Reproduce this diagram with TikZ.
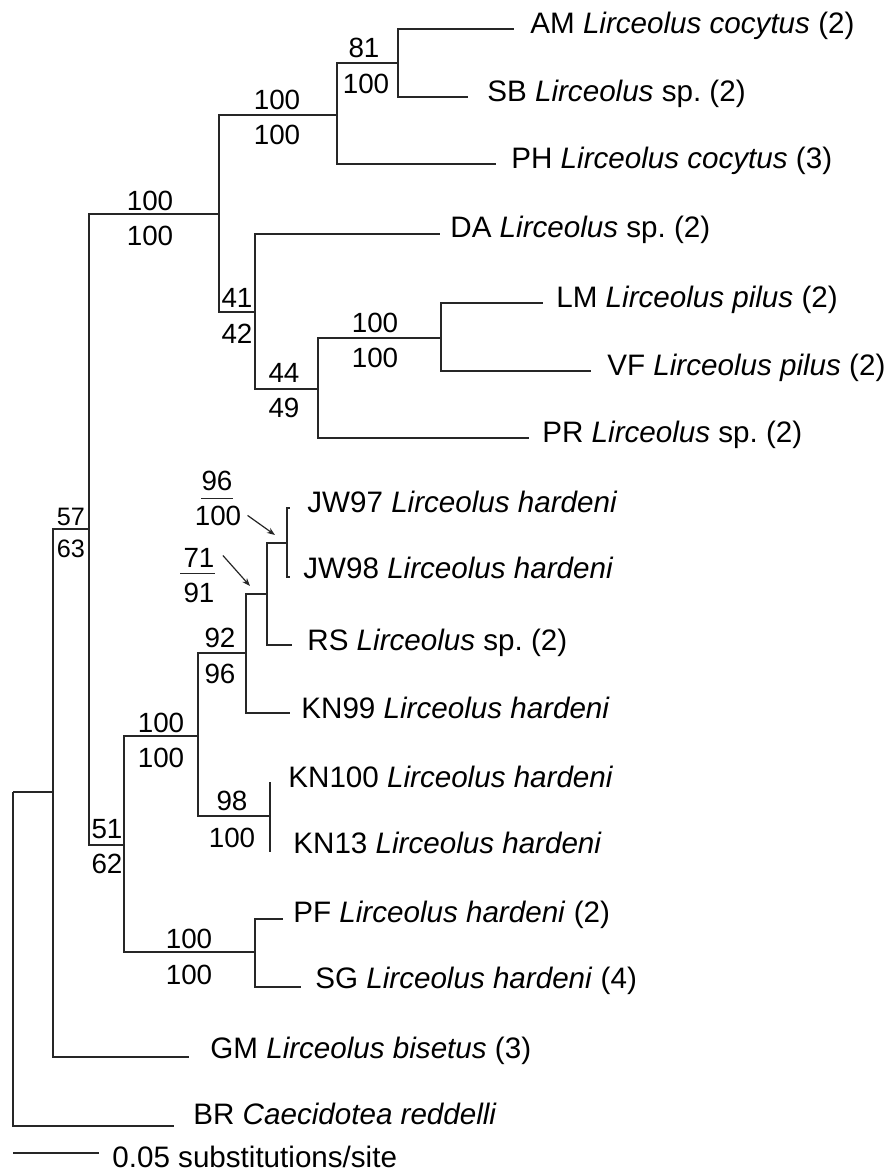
\documentclass[tikz,border=0pt]{standalone}
\usepackage{fontspec}
\setmainfont{Liberation Sans}
\usetikzlibrary{arrows.meta}
\begin{document}
\begin{tikzpicture}[x=0.5pt,y=-0.5pt,
  edge/.style={line width=0.75pt,color=black!85},
  taxon/.style={anchor=base west,inner sep=0pt,font=\fontsize{14.8}{17}\selectfont\frenchspacing},
  supp/.style={anchor=base,inner sep=0pt,font=\fontsize{13.9}{16}\selectfont},
  suppsmall/.style={anchor=base,inner sep=0pt,font=\fontsize{12.6}{15}\selectfont},
  pointer/.style={line width=0.6pt,color=black!85,-{Stealth[length=4pt,width=3pt]}}]
\useasboundingbox (0,0) rectangle (892,1174);
% internal nodes
\coordinate (r) at (13,792);
\coordinate (n1) at (53,792);
\coordinate (n2) at (89,529);
\coordinate (n3) at (219,214);
\coordinate (n4) at (337,115);
\coordinate (n5) at (398,63);
\coordinate (n6) at (255,312);
\coordinate (n7) at (318,389);
\coordinate (n8) at (441,338);
\coordinate (n9) at (124,845);
\coordinate (n10) at (198,736);
\coordinate (n11) at (246,653);
\coordinate (n12) at (267,594);
\coordinate (n13) at (287,543);
\coordinate (n14) at (270,816);
\coordinate (n15) at (255,952);
% tips
\coordinate (tAM) at (514,29);
\coordinate (tSB) at (468,97);
\coordinate (tPH) at (496,164);
\coordinate (tDA) at (440,234);
\coordinate (tLM) at (543,303);
\coordinate (tVF) at (591,371);
\coordinate (tPR) at (529,438);
\coordinate (tJWa) at (290,508);
\coordinate (tJWb) at (290,577);
\coordinate (tRS) at (292,645);
\coordinate (tKNa) at (290,713);
\coordinate (tKNb) at (270,782);
\coordinate (tKNc) at (270,852);
\coordinate (tPF) at (283,919);
\coordinate (tSG) at (301,987);
\coordinate (tGM) at (189,1057);
\coordinate (tBR) at (174,1126);
% edges
\draw[edge] (r) |- (n1);  \draw[edge] (r) |- (tBR);
\draw[edge] (n1) |- (n2); \draw[edge] (n1) |- (tGM);
\draw[edge] (n2) |- (n3); \draw[edge] (n2) |- (n9);
\draw[edge] (n3) |- (n4); \draw[edge] (n3) |- (n6);
\draw[edge] (n4) |- (n5); \draw[edge] (n4) |- (tPH);
\draw[edge] (n5) |- (tAM); \draw[edge] (n5) |- (tSB);
\draw[edge] (n6) |- (tDA); \draw[edge] (n6) |- (n7);
\draw[edge] (n7) |- (n8); \draw[edge] (n7) |- (tPR);
\draw[edge] (n8) |- (tLM); \draw[edge] (n8) |- (tVF);
\draw[edge] (n9) |- (n10); \draw[edge] (n9) |- (n15);
\draw[edge] (n10) |- (n11); \draw[edge] (n10) |- (n14);
\draw[edge] (n11) |- (n12); \draw[edge] (n11) |- (tKNa);
\draw[edge] (n12) |- (n13); \draw[edge] (n12) |- (tRS);
\draw[edge] (n13) |- (tJWa); \draw[edge] (n13) |- (tJWb);
\draw[edge] (n14) |- (tKNb); \draw[edge] (n14) |- (tKNc);
\draw[edge] (n15) |- (tPF); \draw[edge] (n15) |- (tSG);
% taxon labels
\node[taxon] (lAM) at (530,33) {AM \textit{Lirceolus cocytus} (2)};
\node[taxon] (lSB) at (487,101) {SB \textit{Lirceolus} sp. (2)};
\node[taxon] (lPH) at (511,168) {PH \textit{Lirceolus cocytus} (3)};
\node[taxon] (lDA) at (450,237) {DA \textit{Lirceolus} sp. (2)};
\node[taxon] (lLM) at (556,307) {LM \textit{Lirceolus pilus} (2)};
\node[taxon] (lVF) at (607,375) {VF \textit{Lirceolus pilus} (2)};
\node[taxon] (lPR) at (542,442) {PR \textit{Lirceolus} sp. (2)};
\node[taxon] (lJWa) at (307,512) {JW97 \textit{Lirceolus hardeni}};
\node[taxon] (lJWb) at (303,578) {JW98 \textit{Lirceolus hardeni}};
\node[taxon] (lRS) at (307,650) {RS \textit{Lirceolus} sp. (2)};
\node[taxon] (lKNa) at (301,718) {KN99 \textit{Lirceolus hardeni}};
\node[taxon] (lKNb) at (288,787) {KN100 \textit{Lirceolus hardeni}};
\node[taxon] (lKNc) at (293,853) {KN13 \textit{Lirceolus hardeni}};
\node[taxon] (lPF) at (293,922) {PF \textit{Lirceolus hardeni} (2)};
\node[taxon] (lSG) at (315,988) {SG \textit{Lirceolus hardeni} (4)};
\node[taxon] (lGM) at (210,1058) {GM \textit{Lirceolus bisetus} (3)};
\node[taxon] (lBR) at (193,1124) {BR \textit{Caecidotea reddelli}};
% support values
\node[supp] (s81) at (364,57) {81};
\node[supp] (s81b) at (366,93) {100};
\node[supp] (sAa) at (277,109) {100};
\node[supp] (sAb) at (277,144) {100};
\node[supp] (sBa) at (150,210) {100};
\node[supp] (sBb) at (150,245) {100};
\node[supp] (s41) at (237,307) {41};
\node[supp] (s42) at (237,343) {42};
\node[supp] (s44) at (284,382) {44};
\node[supp] (s49) at (284,417) {49};
\node[supp] (sCa) at (375,332) {100};
\node[supp] (sCb) at (375,367) {100};
\node[suppsmall] (s57) at (71,525) {57};
\node[suppsmall] (s63) at (71,557) {63};
\node[supp] (s96) at (217,490) {96};
\node[supp] (s96b) at (218,525) {100};
\node[supp] (s71) at (199,567) {71};
\node[supp] (s91) at (199,602) {91};
\node[supp] (s92) at (220,647) {92};
\node[supp] (s92b) at (220,683) {96};
\node[supp] (sDa) at (161,732) {100};
\node[supp] (sDb) at (161,767) {100};
\node[supp] (s98) at (232,810) {98};
\node[supp] (s98b) at (232,847) {100};
\node[supp] (s51) at (107,838) {51};
\node[supp] (s62) at (107,873) {62};
\node[supp] (sEa) at (189,948) {100};
\node[supp] (sEb) at (189,984) {100};
% fraction bars and pointers
\draw[edge,line width=0.6pt] ([yshift=-4pt]s96.south west) -- ([yshift=-4pt]s96.south east);
\draw[edge,line width=0.6pt] ([yshift=-3pt,xshift=-1.5pt]s71.south west) -- ([yshift=-3pt]s71.south east);
\coordinate (pa) at (275,535);
\coordinate (pb) at (250,586);
\draw[pointer] ([xshift=3pt]s96b.east) -- (pa);
\draw[pointer] ([xshift=4pt,yshift=1pt]s71.east) -- (pb);
% scale bar
\coordinate (sb0) at (13,1153);
\coordinate (sb1) at (99,1153);
\draw[edge] (sb0) -- (sb1);
\node[taxon] (sbl) at (112,1167) {0.05 substitutions/site};
\end{tikzpicture}
\end{document}
